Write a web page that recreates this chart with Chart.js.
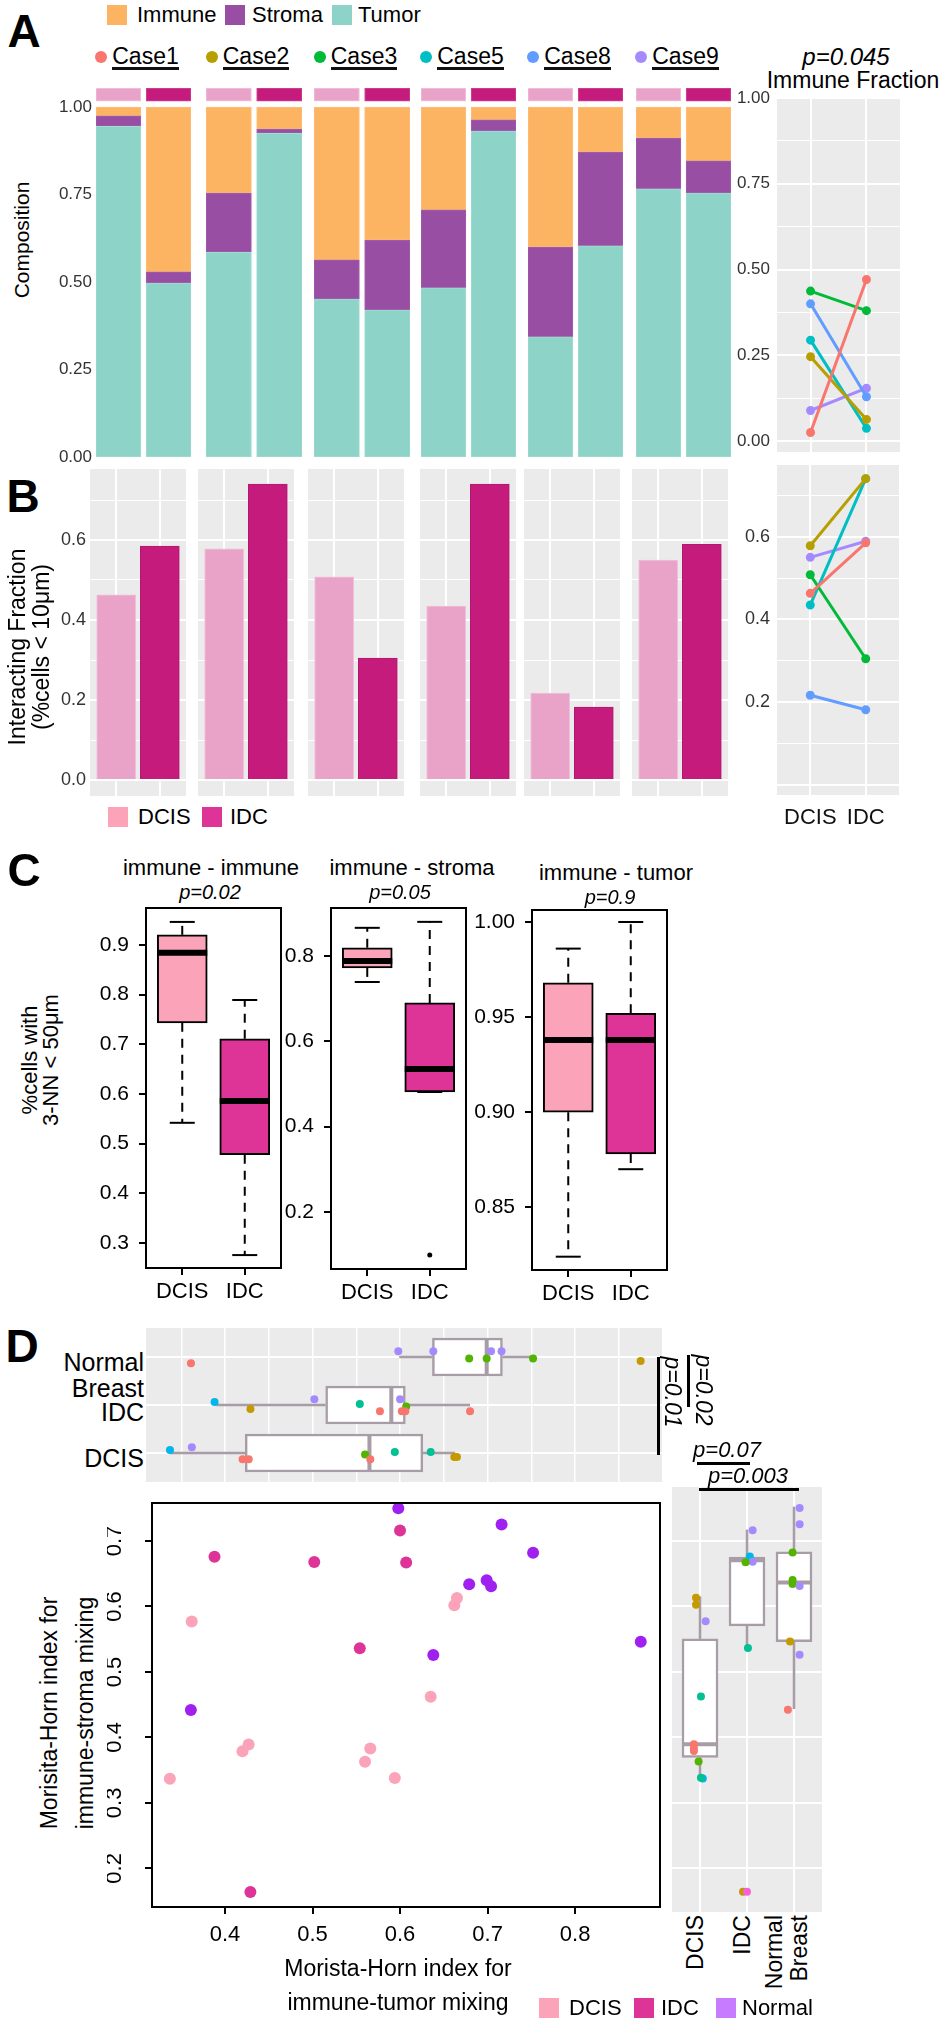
<!DOCTYPE html>
<html>
<head>
<meta charset="utf-8">
<script src="https://cdn.jsdelivr.net/npm/chart.js@4.4.1/dist/chart.umd.min.js"></script>
<style>
body { margin: 0; background: #fff; }
#fig { position: relative; width: 940px; height: 2040px; overflow: hidden; font-family: "Liberation Sans", Arial, sans-serif; color: #000; }
#fig canvas { position: absolute; }
.t { position: absolute; white-space: pre; line-height: 1; }
.r { position: absolute; background: #000; }
</style>
</head>
<body>
<div id="fig"></div>
<script>
// ---------- panel A / B data ----------
const cases = ['Case1', 'Case2', 'Case3', 'Case5', 'Case8', 'Case9'];
const stages = ['DCIS', 'IDC'];
const parts = ['Immune', 'Stroma', 'Tumor'];
const tumorDCIS  = [0.945, 0.585, 0.451, 0.483, 0.343, 0.766];
const stromaDCIS = [0.030, 0.169, 0.112, 0.223, 0.257, 0.145];
const immuneDCIS = [0.025, 0.246, 0.437, 0.294, 0.400, 0.089];
const tumorIDC   = [0.497, 0.925, 0.420, 0.931, 0.603, 0.754];
const stromaIDC  = [0.032, 0.012, 0.200, 0.032, 0.268, 0.092];
const immuneIDC  = [0.471, 0.063, 0.380, 0.037, 0.129, 0.154];
const interDCIS  = [0.463, 0.578, 0.508, 0.435, 0.217, 0.550];
const interIDC   = [0.585, 0.740, 0.305, 0.740, 0.182, 0.589];

// ---------- panel C data: [low whisker, Q1, median, Q3, high whisker] ----------
const cTitles = ['immune - immune', 'immune - stroma', 'immune - tumor'];
const cPvals  = ['p=0.02', 'p=0.05', 'p=0.9'];
const cDCIS = [[0.542, 0.743, 0.884, 0.920, 0.946], [0.739, 0.772, 0.788, 0.819, 0.866], [0.824, 0.900, 0.938, 0.968, 0.986]];
const cIDC  = [[0.276, 0.478, 0.586, 0.711, 0.789], [0.481, 0.481, 0.535, 0.690, 0.880], [0.870, 0.878, 0.938, 0.952, 1.000]];
const cOutIDC = [[], [0.099], []];

// ---------- panel D data ----------
const dGroups = ['DCIS', 'IDC', 'Normal'];
// x = immune-tumor mixing, y = immune-stroma mixing, case = colour code 0..6
const dcisTumorMix  = [0.337, 0.362, 0.420, 0.427, 0.560, 0.566, 0.594, 0.635, 0.662, 0.665];
const dcisStromaMix = [0.337, 0.577, 0.379, 0.389, 0.363, 0.383, 0.338, 0.462, 0.602, 0.613];
const dcisCase      = [4, 5, 0, 0, 2, 0, 3, 3, 1, 1];
const idcTumorMix   = [0.388, 0.429, 0.502, 0.554, 0.600, 0.607, 0.577, 0.602, 0.606, 0.680, null];
const idcStromaMix  = [0.676, 0.164, 0.668, 0.536, 0.716, 0.667, null, null, null, null, 0.164];
const idcCase       = [4, 1, 5, 3, 5, 2, 0, 0, 0, 0, 6];
const normTumorMix  = [0.598, 0.716, 0.752, 0.679, 0.699, 0.704, 0.638, 0.875, 0.361];
const normStromaMix = [0.750, 0.725, 0.682, 0.634, 0.640, 0.631, 0.526, 0.546, 0.442];
const normCase      = [5, 5, 2, 2, 2, 5, 5, 1, 0];
const tumorMixStats  = [[0.337, 0.423, 0.565, 0.626, 0.663], [0.390, 0.515, 0.590, 0.606, 0.680], [0.599, 0.637, 0.699, 0.717, 0.752]];
const stromaMixStats = [[0.340, 0.369, 0.389, 0.550, 0.615], [0.537, 0.570, 0.670, 0.675, 0.717], [0.443, 0.546, 0.636, 0.683, 0.752]];

// ---------- styles ----------
const IMM = '#FDB462', STR = '#984EA3', TUM = '#8DD3C7';
const STAGE = ['#E9A3C9', '#C51B7D'];
const PINK = '#FBA3B9', MAG = '#DE3497', PURP = '#A020F0';
const PANEL = '#EBEBEB', BOXG = '#A89CA7';
const caseColors = ['#F8766D', '#B79F00', '#00BA38', '#00BFC4', '#619CFF', '#A58AFF'];
const dPalette = ['#F8766D', '#C49A00', '#53B400', '#00C094', '#00B6EB', '#A58AFF', '#FB61D7'];
const dodge = [-0.13, -0.085, -0.03, 0.02, 0.06, 0.12, 0];
const STRIP_Y = [1.017, 1.054];

Chart.defaults.font.family = '"Liberation Sans", Arial, sans-serif';
Chart.defaults.color = '#333';
const fig = document.getElementById('fig');

Chart.register({
  id: 'panelBg',
  beforeDraw(chart, a, o) {
    if (!o.color) return;
    const {left, top, width, height} = chart.chartArea;
    chart.ctx.save();
    chart.ctx.fillStyle = o.color;
    chart.ctx.fillRect(left, top, width, height);
    chart.ctx.restore();
  }
});
Chart.register({
  id: 'frame',
  afterDraw(chart, a, o) {
    if (!o.width) return;
    const {left, top, width, height} = chart.chartArea;
    const ctx = chart.ctx;
    ctx.save();
    ctx.strokeStyle = '#000';
    ctx.lineWidth = o.width;
    ctx.strokeRect(left, top, width, height);
    ctx.restore();
  }
});
// y tick labels turned 90deg, as base R draws them
Chart.register({
  id: 'rotY',
  afterDraw(chart, a, o) {
    if (!o.offset) return;
    const s = chart.scales.y, ctx = chart.ctx;
    ctx.save();
    ctx.font = o.size + 'px "Liberation Sans", Arial, sans-serif';
    ctx.fillStyle = '#000';
    ctx.textAlign = 'center';
    ctx.textBaseline = 'middle';
    s.ticks.forEach(t => {
      ctx.save();
      ctx.translate(chart.chartArea.left - o.offset, s.getPixelForValue(t.value));
      ctx.rotate(-Math.PI / 2);
      ctx.fillText(t.value.toFixed(1), 0, 0);
      ctx.restore();
    });
    ctx.restore();
  }
});

function zeroPad(s) { s.paddingLeft = s.paddingRight = s.paddingTop = s.paddingBottom = 0; }

// area = [left, top, width, height] of the plotting region; m = [yAxisW, padTop, padRight, xAxisH]
function plot(area, m, cfg) {
  const [ml, mt, mr, mb] = m;
  const W = area[2] + ml + mr, H = area[3] + mt + mb;
  const c = document.createElement('canvas');
  c.width = W; c.height = H;
  c.style.left = (area[0] - ml) + 'px';
  c.style.top = (area[1] - mt) + 'px';
  c.style.width = W + 'px';
  c.style.height = H + 'px';
  fig.appendChild(c);
  const o = cfg.options;
  Object.assign(o, {responsive: false, maintainAspectRatio: false, animation: false, devicePixelRatio: 1,
    layout: {autoPadding: false, padding: {left: 0, top: mt, right: mr, bottom: 0}}});
  o.plugins = Object.assign({legend: {display: false}, tooltip: {enabled: false}}, o.plugins || {});
  ['x', 'y'].forEach(k => {
    const sc = o.scales[k];
    sc.offset = false;
    sc.grid = Object.assign({offset: false}, sc.grid);
  });
  o.scales.x.afterFit = s => { s.height = mb; zeroPad(s); };
  o.scales.y.afterFit = s => { s.width = ml; zeroPad(s); };
  return new Chart(c, cfg);
}

function txt(s, x, y, o = {}) {
  const d = document.createElement('div');
  d.className = 't';
  d.textContent = s;
  d.style.left = x + 'px';
  d.style.top = y + 'px';
  d.style.fontSize = (o.size || 22) + 'px';
  if (o.italic) d.style.fontStyle = 'italic';
  if (o.bold) d.style.fontWeight = 'bold';
  if (o.lh) d.style.lineHeight = o.lh + 'px';
  if (o.ta) d.style.textAlign = o.ta;
  const ax = {l: '0', c: '-50%', r: '-100%'}[o.anchor || 'c'];
  d.style.transform = 'translate(' + ax + ', -50%)' + (o.rot ? ' rotate(' + o.rot + 'deg)' : '');
  fig.appendChild(d);
  return d;
}
function rule(x, y, w, h, color) {
  const d = document.createElement('div');
  d.className = 'r';
  Object.assign(d.style, {left: x + 'px', top: y + 'px', width: w + 'px', height: h + 'px'});
  if (color) d.style.background = color;
  fig.appendChild(d);
}

const hidden = (min, max, step) => ({type: 'linear', min, max,
  ticks: {display: false, stepSize: step, includeBounds: false},
  grid: {display: false, drawTicks: false}, border: {display: false}});
const ggAxis = (min, max, step, majorEvery, extra) => Object.assign({type: 'linear', min, max,
  ticks: {display: false, stepSize: step, includeBounds: false},
  grid: {color: '#fff', drawTicks: false,
    lineWidth: c => (c.tick && Math.round(c.tick.value / step) % majorEvery === 0 ? 2 : 1)},
  border: {display: false}}, extra || {});

// ================= PANEL A =================
txt('A', 24, 31, {size: 46, bold: true});
[[IMM, 'Immune', 107, 137], [STR, 'Stroma', 225, 252], [TUM, 'Tumor', 332, 358]].forEach(([col, name, sx, tx]) => {
  rule(sx, 5, 20, 20, col);
  txt(name, tx, 15, {size: 22, anchor: 'l'});
});

const facetA = [95.5, 206, 314, 420.5, 527.5, 635.5];
cases.forEach((cs, i) => {
  const first = i === 0;
  const tum = [tumorDCIS[i], tumorIDC[i]];
  const str = [stromaDCIS[i], stromaIDC[i]];
  const imm = [immuneDCIS[i], immuneIDC[i]];
  const seg = (label, lo, hi, color, border) => ({label, backgroundColor: color, borderColor: border,
    borderWidth: 1, borderSkipped: false, grouped: false, barThickness: 45,
    data: [0, 1].map(k => ({x: k, y: [lo(k), hi(k)]}))});
  plot([facetA[i], 88, 95.5, 369], [first ? 50 : 0, 0, 0, 12], {
    type: 'bar',
    data: {datasets: [
      seg('Tumor', k => 0, k => tum[k], TUM, '#9fdcd1'),
      seg('Stroma', k => tum[k], k => tum[k] + str[k], STR, '#a35fae'),
      seg('Immune', k => tum[k] + str[k], k => tum[k] + str[k] + imm[k], IMM, '#fdbf7a'),
      seg('Stage', k => STRIP_Y[0], k => STRIP_Y[1], STAGE, ['#f2c4dd', '#d04a93'])
    ]},
    options: {scales: {
      x: hidden(-0.4455, 1.4455, 1),
      y: {type: 'linear', min: 0, max: 1.0543,
        ticks: {display: first, stepSize: 0.25, includeBounds: false, padding: 4, color: '#333',
          font: {size: 17}, callback: v => v.toFixed(2)},
        grid: {display: false, drawTicks: false}, border: {display: false}}
    }}
  });
  const c = facetA[i] + 47.75;
  const dot = document.createElement('div');
  Object.assign(dot.style, {position: 'absolute', left: (c - 48) + 'px', top: '51px', width: '12px', height: '12px',
    borderRadius: '50%', background: caseColors[i]});
  fig.appendChild(dot);
  const lab = document.createElement('div');
  lab.textContent = cs;
  Object.assign(lab.style, {position: 'absolute', left: (c - 31) + 'px', top: '46px', fontSize: '23px',
    lineHeight: '21px', borderBottom: '3px solid #111', whiteSpace: 'pre'});
  fig.appendChild(lab);
});
txt('Composition', 21, 240, {size: 21, rot: -90});

txt('p=0.045', 846, 57, {size: 24, italic: true});
txt('Immune Fraction', 853, 80, {size: 23});
plot([777, 98, 123, 354], [50, 12, 0, 0], {
  type: 'line',
  data: {datasets: cases.map((cs, i) => ({label: cs,
    data: [{x: 0, y: immuneDCIS[i]}, {x: 1, y: immuneIDC[i]}],
    borderColor: caseColors[i], backgroundColor: caseColors[i], borderWidth: 3, pointRadius: 3}))},
  options: {plugins: {panelBg: {color: PANEL}}, scales: {
    x: ggAxis(-0.6, 1.6, 1, 1),
    y: ggAxis(-0.032, 1.0, 0.125, 2, {ticks: {display: true, stepSize: 0.125, includeBounds: false,
      padding: 7, color: '#333', font: {size: 17},
      callback: v => (Math.round(v * 8) % 2 === 0 ? v.toFixed(2) : '')}})
  }}
});

// ================= PANEL B =================
txt('B', 23, 496, {size: 46, bold: true});
const facetB = [90, 197.5, 308, 419.5, 524, 632];
cases.forEach((cs, i) => {
  const first = i === 0;
  plot([facetB[i], 469, 96, 327], [first ? 50 : 0, 0, 0, 0], {
    type: 'bar',
    data: {datasets: [{label: cs, data: [{x: 0, y: interDCIS[i]}, {x: 1, y: interIDC[i]}],
      backgroundColor: STAGE, borderColor: ['#f0c0da', '#b3176f'], borderWidth: 1, barThickness: 39, grouped: false}]},
    options: {plugins: {panelBg: {color: PANEL}}, scales: {
      x: ggAxis(-0.6, 1.6, 1, 1),
      y: ggAxis(-0.04, 0.7775, 0.1, 2, {ticks: {display: first, stepSize: 0.1, includeBounds: false,
        padding: 4, color: '#333', font: {size: 18},
        callback: v => (Math.round(v * 10) % 2 === 0 ? v.toFixed(1) : '')}})
    }}
  });
});
txt('Interacting Fraction\n(%cells < 10μm)', 29, 647, {size: 23, lh: 24, rot: -90, ta: 'center'});
rule(108, 807, 20, 20, PINK);
txt('DCIS', 138, 817, {size: 22, anchor: 'l'});
rule(202, 807, 20, 20, MAG);
txt('IDC', 230, 817, {size: 22, anchor: 'l'});

plot([777, 465, 122, 330], [50, 0, 0, 40], {
  type: 'line',
  data: {datasets: cases.map((cs, i) => ({label: cs,
    data: [{x: 0, y: interDCIS[i]}, {x: 1, y: interIDC[i]}],
    borderColor: caseColors[i], backgroundColor: caseColors[i], borderWidth: 3, pointRadius: 3}))},
  options: {plugins: {panelBg: {color: PANEL}}, scales: {
    x: ggAxis(-0.6, 1.6, 1, 1, {ticks: {display: true, stepSize: 1, includeBounds: false, padding: 10,
      color: '#111', font: {size: 22}, autoSkip: false, minRotation: 0, maxRotation: 0,
      callback: v => stages[v]}}),
    y: ggAxis(-0.024, 0.773, 0.1, 2, {ticks: {display: true, stepSize: 0.1, includeBounds: false,
      padding: 7, color: '#333', font: {size: 18},
      callback: v => (Math.round(v * 10) % 2 === 0 && v > 0.05 ? v.toFixed(1) : '')}})
  }}
});

// ================= PANEL C =================
txt('C', 24, 870, {size: 46, bold: true});
txt('%cells with\n3-NN < 50μm', 40, 1060, {size: 22, lh: 21, rot: -90, ta: 'center'});
const cAreas = [[146, 908, 135, 360], [331, 908, 135, 361], [532, 910, 135, 360]];
const cRanges = [[0.25, 0.974, 0.1, 1], [0.066, 0.9125, 0.2, 1], [0.817, 1.0063, 0.05, 2]];
const cTitlePos = [[211, 868, 210], [412, 868, 400], [616, 873, 610]];
cTitles.forEach((title, p) => {
  const stats = [cDCIS[p], cIDC[p]];
  const [ymin, ymax, step, dec] = cRanges[p];
  const ds = [];
  stats.forEach((s, g) => {
    [[s[3], s[4]], [s[1], s[0]]].forEach(([a, b]) => ds.push({type: 'line', order: 3,
      data: [{x: g + 1, y: a}, {x: g + 1, y: b}], borderColor: '#000', borderWidth: 2,
      borderDash: [9, 7], pointRadius: 0}));
  });
  ds.push({type: 'bar', order: 2, grouped: false, borderSkipped: false, barThickness: 50,
    data: stats.map((s, g) => ({x: g + 1, y: [s[1], s[3]]})),
    backgroundColor: [PINK, MAG], borderColor: '#000', borderWidth: 2});
  ds.push({type: 'scatter', order: 1, data: stats.map((s, g) => ({x: g + 1, y: s[2]})),
    pointStyle: 'line', pointRadius: 25, pointBorderWidth: 6, pointBorderColor: '#000'});
  ds.push({type: 'scatter', order: 1,
    data: stats.flatMap((s, g) => [{x: g + 1, y: s[0]}, {x: g + 1, y: s[4]}]),
    pointStyle: 'line', pointRadius: 12.5, pointBorderWidth: 2, pointBorderColor: '#000'});
  ds.push({type: 'scatter', order: 1, data: cOutIDC[p].map(v => ({x: 2, y: v})),
    pointRadius: 2.5, pointBackgroundColor: '#000', pointBorderWidth: 0});
  const tickGrid = {drawOnChartArea: false, drawTicks: true, tickLength: 7, color: '#000', lineWidth: 2};
  plot(cAreas[p], [66, 4, 4, 45], {
    type: 'bar',
    data: {datasets: ds},
    options: {plugins: {frame: {width: 2}}, scales: {
      x: {type: 'linear', min: 0.42, max: 2.58,
        ticks: {stepSize: 1, includeBounds: false, padding: 4, color: '#000', font: {size: 22},
          autoSkip: false, minRotation: 0, maxRotation: 0, callback: v => stages[v - 1]},
        grid: tickGrid, border: {display: false}},
      y: {type: 'linear', min: ymin, max: ymax,
        ticks: {stepSize: step, includeBounds: false, padding: 10, color: '#000', font: {size: 21},
          callback: v => v.toFixed(dec)},
        grid: tickGrid, border: {display: false}}
    }}
  });
  const [tx, ty, px] = cTitlePos[p];
  txt(title, tx, ty, {size: 22});
  txt(cPvals[p], px, ty + 24, {size: 20, italic: true});
});

// ================= PANEL D =================
txt('D', 22, 1346, {size: 46, bold: true});
const dSamples = [
  [dcisTumorMix, dcisStromaMix, dcisCase],
  [idcTumorMix, idcStromaMix, idcCase],
  [normTumorMix, normStromaMix, normCase]
];

// top: horizontal boxplots of immune-tumor mixing
{
  const ds = [];
  tumorMixStats.forEach((s, g) => {
    [[s[0], s[1]], [s[3], s[4]]].forEach(([a, b]) => ds.push({type: 'line', order: 3,
      data: [{x: a, y: g + 1}, {x: b, y: g + 1}], borderColor: BOXG, borderWidth: 2.5, pointRadius: 0}));
  });
  ds.push({type: 'bar', indexAxis: 'y', order: 3, grouped: false, borderSkipped: false, barThickness: 38,
    data: tumorMixStats.map((s, g) => ({y: g + 1, x: [s[1], s[3]]})),
    backgroundColor: '#fff', borderColor: BOXG, borderWidth: 2.5});
  ds.push({type: 'scatter', order: 2, data: tumorMixStats.map((s, g) => ({x: s[2], y: g + 1})),
    pointStyle: 'line', pointRotation: 90, pointRadius: 19, pointBorderWidth: 4, pointBorderColor: BOXG});
  dSamples.forEach(([xs, ys, cs], g) => {
    const pts = xs.map((v, k) => ({x: v, y: g + 1 + dodge[cs[k]], c: dPalette[cs[k]]})).filter(p => p.x !== null);
    ds.push({type: 'scatter', order: 1, data: pts, pointRadius: 4, pointBorderWidth: 0,
      pointBackgroundColor: pts.map(p => p.c)});
  });
  plot([146, 1328, 516, 154], [0, 0, 0, 0], {
    type: 'bar',
    data: {datasets: ds},
    options: {plugins: {panelBg: {color: PANEL}}, scales: {
      x: ggAxis(0.3096, 0.8994, 0.05, 1, {grid: {color: '#fff', drawTicks: false, lineWidth: 1.5}}),
      y: ggAxis(0.396, 3.604, 1, 1)
    }}
  });
  txt('Normal', 144, 1362, {size: 25, anchor: 'r'});
  txt('Breast', 144, 1388, {size: 25, anchor: 'r'});
  txt('IDC', 144, 1412, {size: 25, anchor: 'r'});
  txt('DCIS', 144, 1458, {size: 25, anchor: 'r'});
  rule(657, 1357, 2.5, 98);
  txt('p=0.01', 672, 1392, {size: 23, italic: true, rot: 90});
  rule(687, 1355, 2.5, 52);
  txt('p=0.02', 703, 1390, {size: 23, italic: true, rot: 90});
}

// scatter
{
  const ds = dSamples.map(([xs, ys], g) => ({type: 'scatter',
    data: xs.map((v, k) => ({x: v, y: ys[k]})).filter(p => p.x !== null && p.y !== null),
    pointRadius: 6, pointBorderWidth: 0, pointBackgroundColor: [PINK, MAG, PURP][g]}));
  const tickGrid = {drawOnChartArea: false, drawTicks: true, tickLength: 7, color: '#000', lineWidth: 2};
  plot([152, 1503, 508, 404], [45, 4, 4, 50], {
    type: 'scatter',
    data: {datasets: ds},
    options: {plugins: {frame: {width: 2}, rotY: {offset: 37, size: 22}}, scales: {
      x: {type: 'linear', min: 0.3166, max: 0.897,
        ticks: {stepSize: 0.1, includeBounds: false, padding: 8, color: '#000', font: {size: 22},
          autoSkip: false, minRotation: 0, maxRotation: 0, callback: v => v.toFixed(1)},
        grid: tickGrid, border: {display: false}},
      y: {type: 'linear', min: 0.141, max: 0.758,
        ticks: {display: false, stepSize: 0.1, includeBounds: false},
        grid: tickGrid, border: {display: false}}
    }}
  });
  txt('Morista-Horn index for', 398, 1968, {size: 23});
  txt('immune-tumor mixing', 398, 2002, {size: 23});
  txt('Morisita-Horn index for\nimmune-stroma mixing', 67, 1713, {size: 23, lh: 36, rot: -90, ta: 'center'});
}

// right: vertical boxplots of immune-stroma mixing
{
  const ds = [];
  stromaMixStats.forEach((s, g) => {
    [[s[0], s[1]], [s[3], s[4]]].forEach(([a, b]) => ds.push({type: 'line', order: 3,
      data: [{x: g + 1, y: a}, {x: g + 1, y: b}], borderColor: BOXG, borderWidth: 2.5, pointRadius: 0}));
  });
  ds.push({type: 'bar', order: 3, grouped: false, borderSkipped: false, barThickness: 36,
    data: stromaMixStats.map((s, g) => ({x: g + 1, y: [s[1], s[3]]})),
    backgroundColor: '#fff', borderColor: BOXG, borderWidth: 2.5});
  ds.push({type: 'scatter', order: 2, data: stromaMixStats.map((s, g) => ({x: g + 1, y: s[2]})),
    pointStyle: 'line', pointRadius: 18, pointBorderWidth: 4, pointBorderColor: BOXG});
  dSamples.forEach(([xs, ys, cs], g) => {
    const pts = ys.map((v, k) => ({x: g + 1 + dodge[cs[k]], y: v, c: dPalette[cs[k]]})).filter(p => p.y !== null);
    ds.push({type: 'scatter', order: 1, data: pts, pointRadius: 4, pointBorderWidth: 0,
      pointBackgroundColor: pts.map(p => p.c)});
  });
  plot([672, 1487, 150, 425], [0, 0, 0, 0], {
    type: 'bar',
    data: {datasets: ds},
    options: {plugins: {panelBg: {color: PANEL}}, scales: {
      x: ggAxis(0.404, 3.596, 1, 1),
      y: ggAxis(0.133, 0.782, 0.1, 1)
    }}
  });
  const rot = (s, x) => {
    const d = document.createElement('div');
    d.className = 't';
    d.textContent = s;
    Object.assign(d.style, {left: x + 'px', top: '1915px', fontSize: '23px', lineHeight: '25px',
      textAlign: 'right', transformOrigin: '0 0', transform: 'rotate(-90deg) translate(-100%, -50%)'});
    fig.appendChild(d);
  };
  rot('DCIS', 695);
  rot('IDC', 742);
  rot('Normal\nBreast', 787);
  txt('p=0.07', 727, 1450, {size: 22, italic: true});
  rule(697, 1462, 53, 2.5);
  txt('p=0.003', 748, 1476, {size: 22, italic: true});
  rule(699, 1488, 100, 3);
}

[[PINK, 'DCIS', 539, 569], [MAG, 'IDC', 634, 661], ['#C77CFF', 'Normal', 716, 742]].forEach(([col, name, sx, tx]) => {
  rule(sx, 1998, 20, 20, col);
  txt(name, tx, 2008, {size: 22, anchor: 'l'});
});
</script>
</body>
</html>
